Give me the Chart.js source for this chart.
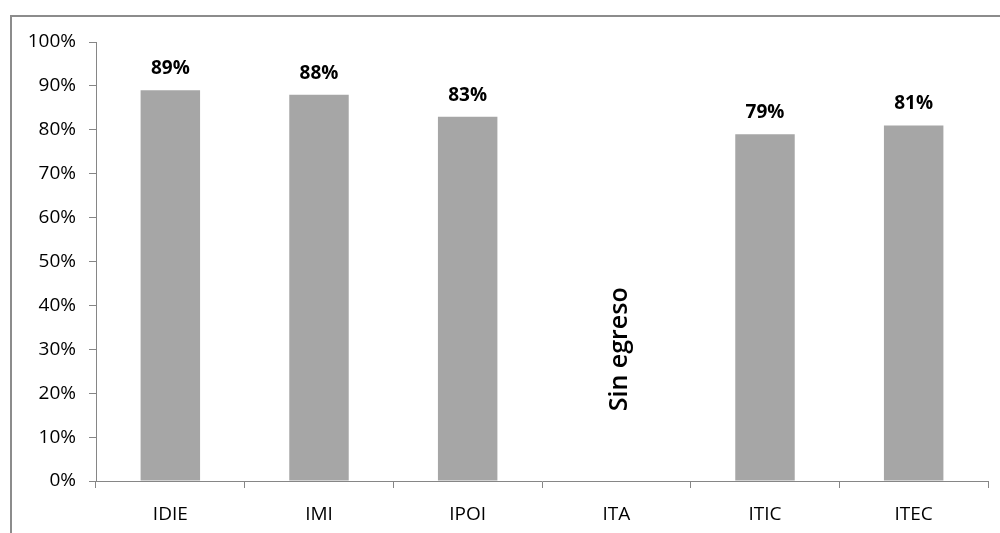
<!DOCTYPE html>
<html>
<head>
<meta charset="utf-8">
<script src="https://cdn.jsdelivr.net/npm/chart.js@4"></script>
<style>
  html, body { margin: 0; padding: 0; background: #fff; }
  #wrap { width: 1000px; height: 533px; }
</style>
</head>
<body>
<div id="wrap"><canvas id="chart"></canvas></div>
<script>
// data
const categories = ['IDIE', 'IMI', 'IPOI', 'ITA', 'ITIC', 'ITEC'];
const values = [89, 88, 83, null, 79, 81];
const missingLabel = 'Sin egreso';
const yTicks = [0, 10, 20, 30, 40, 50, 60, 70, 80, 90, 100];

const axisColor = '#868686';
const barColor = '#a6a6a6';
const fontFamily = '"Open Sans", sans-serif';

// frame, bar labels and the "Sin egreso" note
const decorations = {
    id: 'decorations',
    beforeDraw(chart) {
        const ctx = chart.ctx;
        ctx.save();
        ctx.strokeStyle = '#8c8c8c';
        ctx.lineWidth = 2;
        ctx.beginPath();
        ctx.moveTo(11, 540);
        ctx.lineTo(11, 16);
        ctx.lineTo(1010, 16);
        ctx.stroke();
        ctx.restore();
    },
    afterDatasetsDraw(chart) {
        const ctx = chart.ctx;
        const meta = chart.getDatasetMeta(0);
        const yScale = chart.scales.y;
        ctx.save();
        ctx.fillStyle = '#000';
        ctx.textAlign = 'center';
        ctx.textBaseline = 'alphabetic';
        meta.data.forEach((bar, i) => {
            const v = values[i];
            if (v == null) {
                ctx.save();
                ctx.font = '600 25px ' + fontFamily;
                ctx.translate(bar.x + 4, yScale.getPixelForValue(30));
                ctx.rotate(-Math.PI / 2);
                ctx.textBaseline = 'middle';
                ctx.fillText(missingLabel, 0, 0);
                ctx.restore();
                return;
            }
            ctx.font = 'bold 19px ' + fontFamily;
            ctx.fillText(v + '%', bar.x, bar.y - 16);
        });
        ctx.restore();
    }
};

new Chart(document.getElementById('chart'), {
    type: 'bar',
    data: {
        labels: categories,
        datasets: [{
            data: values,
            backgroundColor: barColor,
            categoryPercentage: 0.4,
            barPercentage: 1
        }]
    },
    options: {
        responsive: true,
        maintainAspectRatio: false,
        animation: false,
        layout: { padding: { left: 22, top: 42, right: 12, bottom: 0 } },
        plugins: {
            legend: { display: false },
            tooltip: { enabled: false }
        },
        scales: {
            x: {
                offset: true,
                grid: { drawOnChartArea: false, drawTicks: true, tickLength: 7, color: axisColor, offset: true },
                border: { color: axisColor },
                ticks: { color: '#000', font: { family: fontFamily, size: 19 }, padding: 15 },
                afterFit: s => { s.height = 52; }
            },
            y: {
                min: 0,
                max: 100,
                afterBuildTicks: s => { s.ticks = yTicks.map(v => ({ value: v })); },
                grid: { drawOnChartArea: false, drawTicks: true, tickLength: 7, color: axisColor },
                border: { color: axisColor },
                ticks: {
                    color: '#000',
                    font: { family: fontFamily, size: 19 },
                    padding: 13,
                    callback: v => v + '%'
                },
                afterFit: s => { s.width = 74; }
            }
        }
    },
    plugins: [decorations]
});
</script>
</body>
</html>
